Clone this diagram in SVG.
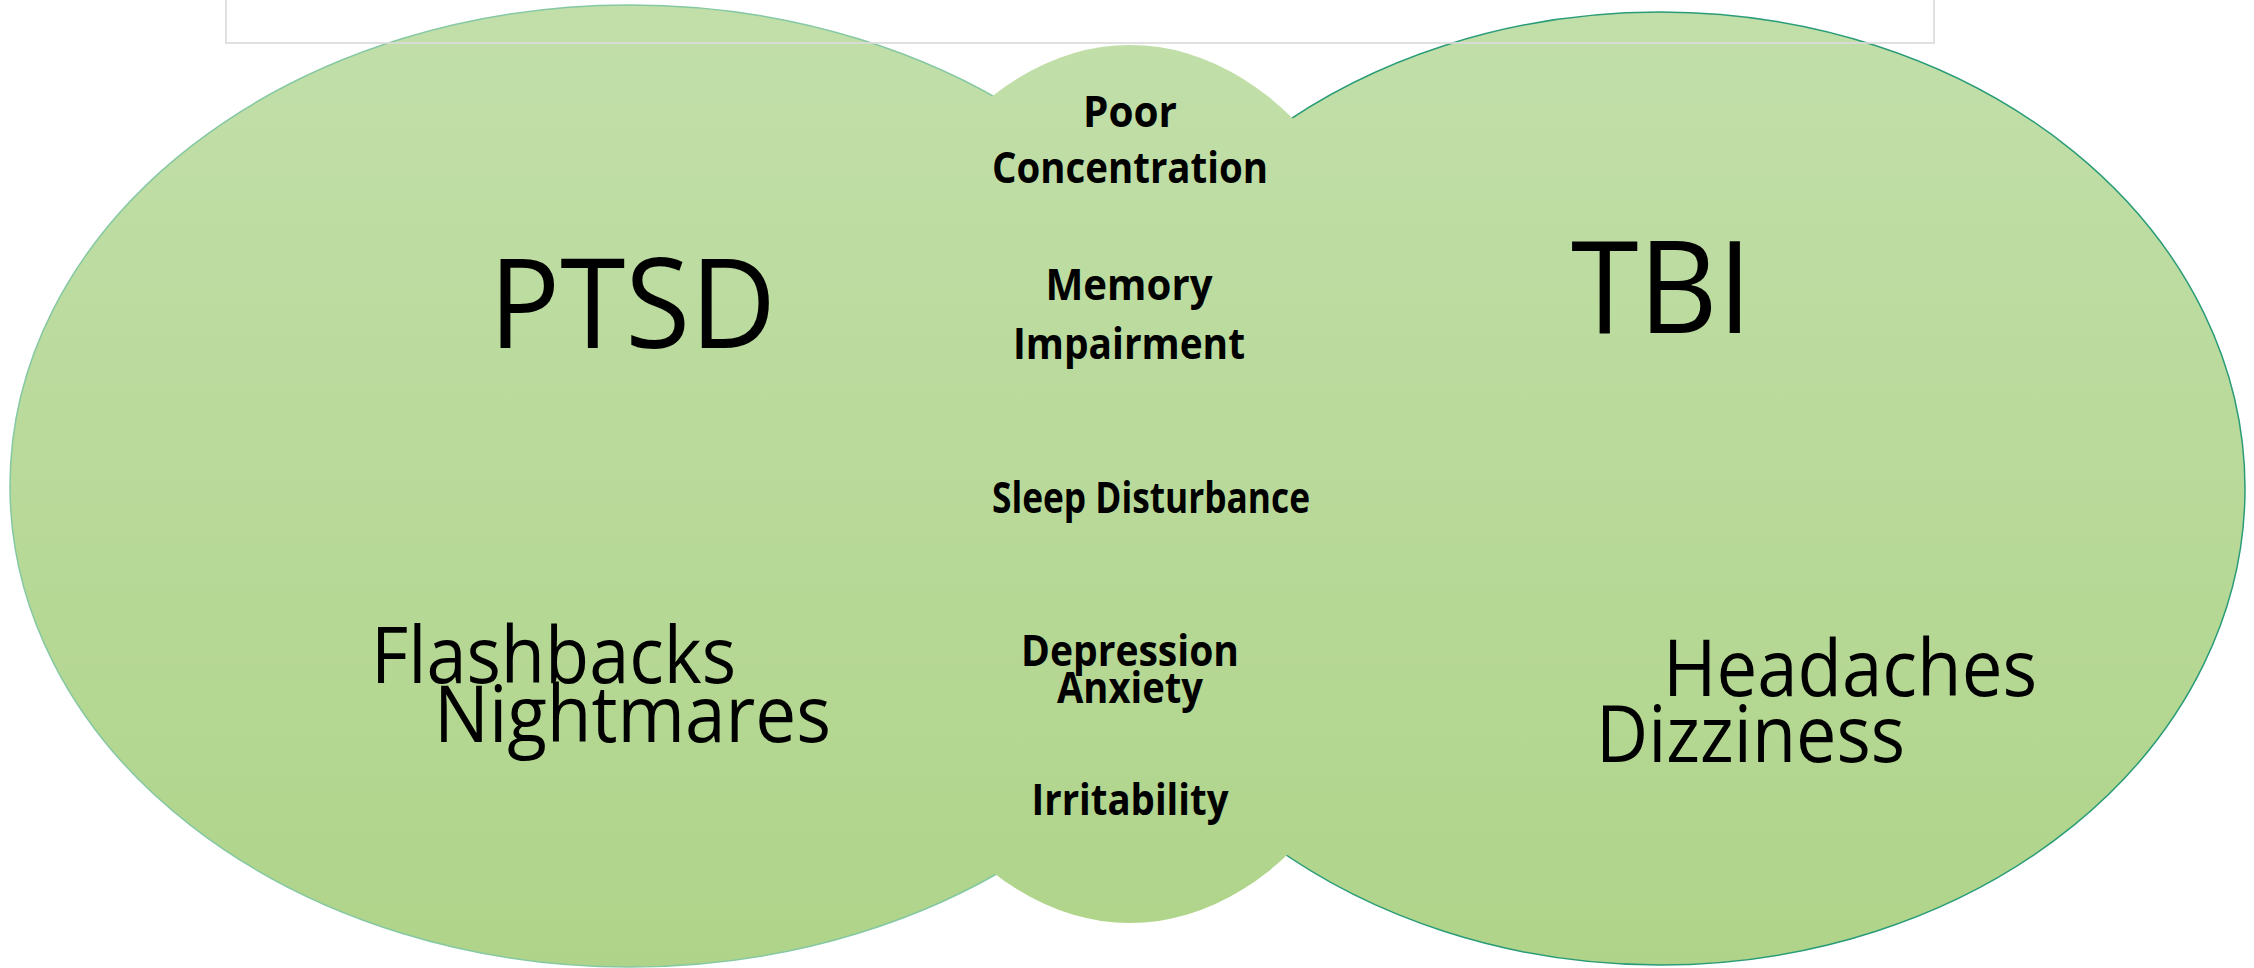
<svg xmlns="http://www.w3.org/2000/svg" width="2254" height="968" viewBox="0 0 2254 968">
  <defs>
    <linearGradient id="g" gradientUnits="userSpaceOnUse" x1="0" y1="0" x2="0" y2="968">
      <stop offset="0" stop-color="#c2dfaa"/>
      <stop offset="1" stop-color="#afd489"/>
    </linearGradient>
    <style>
      .big { font-family: "Open Sans", "Noto Sans", sans-serif; font-weight: 400; fill: #000; }
      .mid { font-family: "Open Sans", "Noto Sans", sans-serif; font-weight: 700; font-size: 43px; fill: #000; text-anchor: middle; }
    </style>
  </defs>
  <rect width="2254" height="968" fill="#ffffff"/>

  <g id="ptsd">
    <ellipse cx="630" cy="486" rx="620" ry="481" fill="url(#g)" stroke="#85c8a2" stroke-width="1.5"/>
  </g>
  <g id="tbi">
    <ellipse cx="1660" cy="488.5" rx="585" ry="476.5" fill="url(#g)" stroke="#2a9c78" stroke-width="1.5"/>
  </g>
  <g id="overlap">
    <ellipse cx="1130" cy="484" rx="294" ry="439" fill="url(#g)"/>
  </g>

  <g id="ptsd-labels">
    <text class="big" x="489" y="348" font-size="125" textLength="287" lengthAdjust="spacingAndGlyphs">PTSD</text>
    <text class="big" x="371" y="683" font-size="79" textLength="365" lengthAdjust="spacingAndGlyphs">Flashbacks</text>
    <text class="big" x="434" y="742" font-size="79" textLength="397" lengthAdjust="spacingAndGlyphs">Nightmares</text>
  </g>
  <g id="tbi-labels">
    <text class="big" x="1571" y="333" font-size="128" textLength="181" lengthAdjust="spacingAndGlyphs">TBI</text>
    <text class="big" x="1663" y="696" font-size="79" textLength="374" lengthAdjust="spacingAndGlyphs">Headaches</text>
    <text class="big" x="1596" y="762" font-size="79" textLength="309" lengthAdjust="spacingAndGlyphs">Dizziness</text>
  </g>
  <g id="overlap-labels">
    <text class="mid" x="1130" y="127" textLength="94" lengthAdjust="spacingAndGlyphs">Poor</text>
    <text class="mid" x="1130" y="183" textLength="276" lengthAdjust="spacingAndGlyphs">Concentration</text>
    <text class="mid" x="1129" y="300" textLength="167" lengthAdjust="spacingAndGlyphs">Memory</text>
    <text class="mid" x="1129" y="359" textLength="232" lengthAdjust="spacingAndGlyphs">Impairment</text>
    <text class="mid" x="1151" y="513" textLength="318" lengthAdjust="spacingAndGlyphs">Sleep Disturbance</text>
    <text class="mid" x="1130" y="666" textLength="218" lengthAdjust="spacingAndGlyphs">Depression</text>
    <text class="mid" x="1130" y="703" textLength="146" lengthAdjust="spacingAndGlyphs">Anxiety</text>
    <text class="mid" x="1130" y="815" textLength="197" lengthAdjust="spacingAndGlyphs">Irritability</text>
  </g>

  <g id="connectors"/>

  <g id="frame">
    <rect x="226" y="-10" width="1708" height="53" fill="none" stroke="#dadada" stroke-width="2" opacity="0.85"/>
  </g>
</svg>
